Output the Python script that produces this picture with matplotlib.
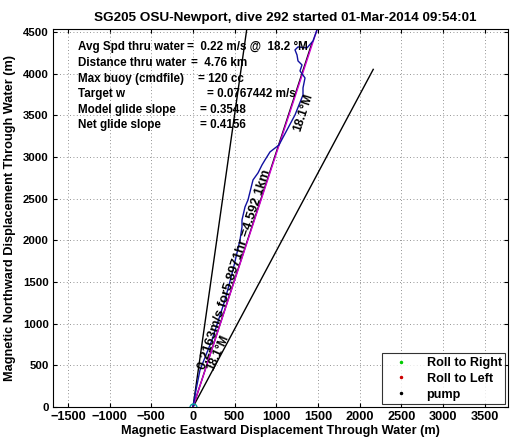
import numpy as np
import matplotlib
matplotlib.use("Agg")
import matplotlib.pyplot as plt

plt.rcParams['font.family'] = ['Liberation Sans', 'DejaVu Sans']
plt.rcParams['font.weight'] = 'bold'

# Track (magnetic east/north displacement through water, m)
track_x = [0, 36, 84, 228, 384, 480, 564, 588, 588, 624, 660, 720, 780, 828, 864,
           924, 1032, 1128, 1224, 1320, 1320, 1344, 1284, 1308, 1260, 1248, 1224,
           1260, 1368, 1440, 1487]
track_y = [0, 204, 444, 804, 1284, 1644, 2004, 2160, 2244, 2400, 2484, 2724, 2808,
           2904, 2964, 3060, 3144, 3324, 3504, 3744, 3828, 3948, 4032, 4104, 4152,
           4224, 4284, 4320, 4308, 4392, 4522]

heading_deg = 18.1
avg_heading_deg = 18.2
dist_km = 4.592
track_dist_km = 4.76
cone_deg = 10.0

xticks = list(range(-1500, 4000, 500))
yticks = list(range(0, 5000, 500))

info_labels = ["Avg Spd thru water", "Distance thru water", "Max buoy (cmdfile)",
               "Target w", "Model glide slope", "Net glide slope"]
info_values = ["=  0.22 m/s @  18.2 °M", "=  4.76 km", "= 120 cc",
               "= 0.0767442 m/s", "= 0.3548", "= 0.4156"]
info_eq_px = [186, 190, 197, 206, 199, 199]

W, H = 521, 442
fig = plt.figure(figsize=(W / 100, H / 100), dpi=100)
L, R, T, B = 53, 508, 29, 407
ax = fig.add_axes([L / W, 1 - B / H, (R - L) / W, (B - T) / H])

xlim = (-1680, 3780)
ylim = (0, 4535)

# cone lines and heading line
d = dist_km * 1000
for ang in (heading_deg - cone_deg, heading_deg + cone_deg, heading_deg):
    a = np.radians(ang)
    ax.plot([0, d * np.sin(a)], [0, d * np.cos(a)], color='black', lw=1)

# magenta line
a = np.radians(avg_heading_deg)
D = track_dist_km * 1000
ax.plot([0, D * np.sin(a)], [0, D * np.cos(a)], color='#d000d0', lw=1)

ax.plot(track_x, track_y, color='#1010a0', lw=1)
ax.plot([0], [0], 'o', mfc='none', mec='#00a0a0', ms=5, mew=1)

# legend entries
ax.plot([], [], '.', color='#00cc00', ms=3, label='Roll to Right')
ax.plot([], [], '.', color='#cc0000', ms=3, label='Roll to Left')
ax.plot([], [], '.', color='black', ms=3, label='pump')
leg = ax.legend(loc='lower right', fontsize=9.1, frameon=True, fancybox=False,
                edgecolor='black', borderpad=0.3, handlelength=2.4, handletextpad=0.8,
                labelspacing=0.3, borderaxespad=0.2)
leg.get_frame().set_linewidth(0.8)

# rotated labels
ax.text(300, 650, '18.1°M', rotation=90 - (heading_deg + cone_deg) + 4, fontsize=8.5,
        ha='center', va='center')
ax.text(495, 1650, '0.2163m/s for5.8971hr =4.592 1km', rotation=90 - heading_deg,
        fontsize=9.4, ha='center', va='center')
ax.text(1330, 3530, '18.1°M', rotation=90 - heading_deg, fontsize=8.8,
        ha='center', va='center')

# info text
pix = lambda px, py: ((px - L) / (R - L), (B - py) / (B - T))
ys = [47, 63, 79, 94, 110, 125]
for lab, val, eqx, y in zip(info_labels, info_values, info_eq_px, ys):
    ax.text(*pix(78, y), lab, transform=ax.transAxes, fontsize=8.4, ha='left', va='center')
    ax.text(*pix(eqx + 1, y), val, transform=ax.transAxes, fontsize=8.4, ha='left', va='center')

ax.set_xlim(xlim)
ax.set_ylim(ylim)
ax.set_xticks(xticks)
ax.set_yticks(yticks)
ax.tick_params(direction='in', top=True, right=True, length=3, pad=3)
ax.tick_params(axis='x', labelsize=9.2)
ax.tick_params(axis='y', labelsize=8.2)
for lab in ax.get_xticklabels() + ax.get_yticklabels():
    lab.set_fontweight('bold')
ax.grid(True, linestyle=(0, (1, 3)), color='#707070', lw=0.6)
for s in ax.spines.values():
    s.set_linewidth(0.8)

ax.set_title('SG205 OSU-Newport, dive 292 started 01-Mar-2014 09:54:01',
             fontsize=9.7, fontweight='bold', pad=6, x=0.51)
ax.set_xlabel('Magnetic Eastward Displacement Through Water (m)', fontsize=9.2,
              fontweight='bold', labelpad=1)
ax.set_ylabel('Magnetic Northward Displacement Through Water (m)', fontsize=9.2,
              fontweight='bold', labelpad=5)

fig.savefig('out.png', dpi=100)
